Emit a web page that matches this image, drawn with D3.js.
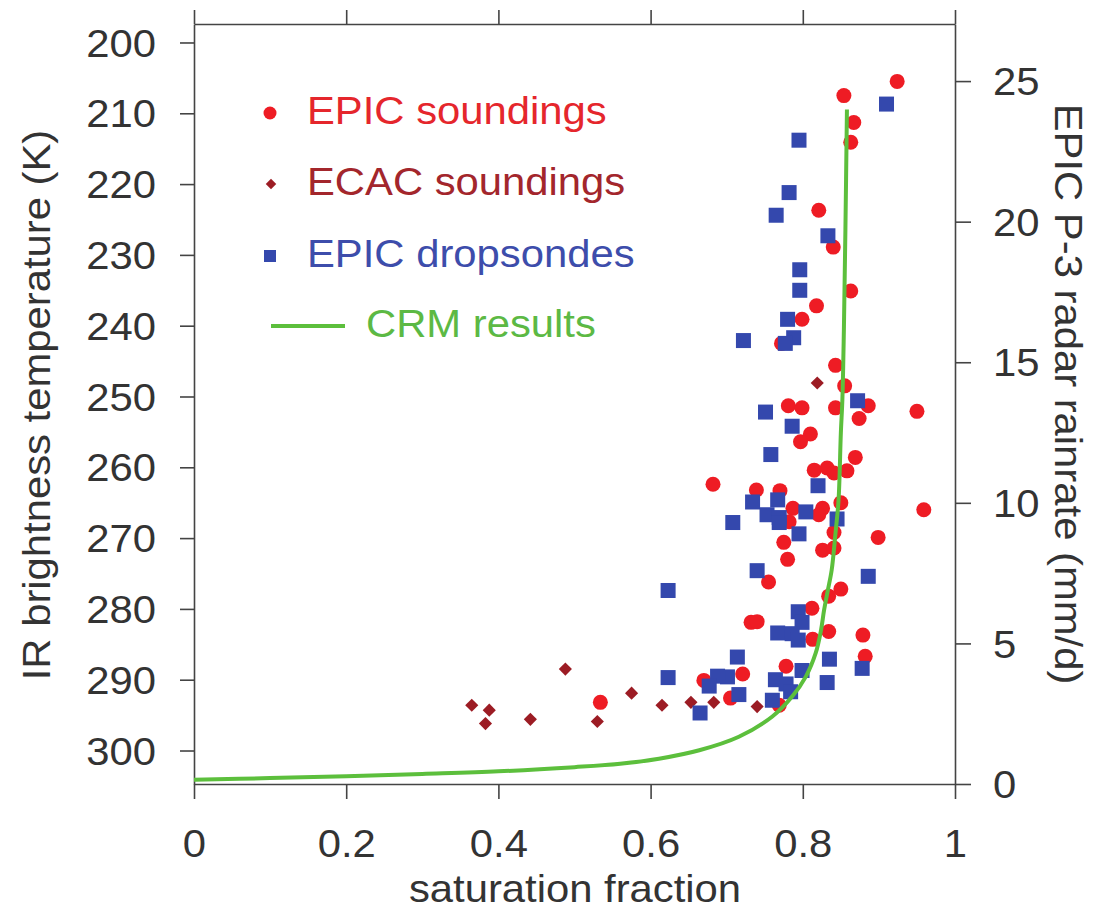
<!DOCTYPE html>
<html>
<head>
<meta charset="utf-8">
<script src="https://cdn.jsdelivr.net/npm/d3@7"></script>
<style>
  html, body { margin: 0; padding: 0; background: #fff; }
  svg { display: block; }
  text { font-family: "Liberation Sans", Arial, Helvetica, sans-serif; }
</style>
</head>
<body>
<svg id="chart" width="1098" height="913"></svg>
<script>
// ---------------- data ----------------
const xTicks = [0, 0.2, 0.4, 0.6, 0.8, 1];
const xTickLabels = ["0", "0.2", "0.4", "0.6", "0.8", "1"];
const leftTicks = [200, 210, 220, 230, 240, 250, 260, 270, 280, 290, 300];
const rightTicks = [0, 5, 10, 15, 20, 25];

const seriesNames = ["EPIC soundings", "ECAC soundings", "EPIC dropsondes", "CRM results"];

// [saturation fraction, IR brightness temperature (K)]
const epicSoundings = [
  [0.854,207.5],[0.924,205.5],[0.867,211.3],[0.863,214.1],[0.821,223.7],
  [0.840,228.9],[0.863,235.1],[0.818,237.2],[0.799,239.1],[0.772,242.5],
  [0.843,245.6],[0.855,248.5],[0.886,251.3],[0.950,252.1],[0.781,251.3],
  [0.799,251.6],[0.843,251.6],[0.874,253.1],[0.810,255.3],[0.797,256.4],
  [0.869,258.6],[0.815,260.4],[0.832,260.1],[0.841,260.8],[0.858,260.5],
  [0.682,262.4],[0.739,263.2],[0.770,263.3],[0.850,265.0],[0.787,265.8],
  [0.826,265.8],[0.959,266.0],[0.821,266.7],[0.782,267.7],[0.841,269.2],
  [0.899,269.9],[0.775,270.6],[0.826,271.7],[0.841,271.4],[0.780,273.0],
  [0.755,276.2],[0.850,277.2],[0.834,278.2],[0.812,279.9],[0.732,281.9],
  [0.740,281.8],[0.834,283.2],[0.813,284.3],[0.879,283.7],[0.882,286.7],
  [0.778,288.1],[0.721,289.2],[0.670,290.1],[0.705,292.6],[0.769,293.6],
  [0.534,293.2]
];

const ecacSoundings = [
  [0.365,293.6],[0.388,294.3],[0.383,296.2],[0.442,295.6],[0.488,288.5],
  [0.530,295.9],[0.575,291.9],[0.615,293.6],[0.653,293.2],[0.683,293.2],
  [0.740,293.8],[0.819,248.1]
];

const epicDropsondes = [
  [0.910,208.7],[0.795,213.8],[0.782,221.2],[0.765,224.4],[0.833,227.3],
  [0.796,232.1],[0.796,235.0],[0.780,239.1],[0.722,242.1],[0.788,241.7],
  [0.777,242.5],[0.872,250.6],[0.751,252.2],[0.786,254.2],[0.758,258.2],
  [0.820,262.6],[0.734,264.9],[0.767,264.6],[0.804,266.3],[0.753,266.7],
  [0.769,267.1],[0.845,267.3],[0.708,267.8],[0.769,267.8],[0.795,269.4],
  [0.740,274.6],[0.886,275.4],[0.623,277.4],[0.794,280.4],[0.799,281.9],
  [0.767,283.4],[0.786,283.5],[0.794,284.4],[0.835,287.1],[0.714,286.8],
  [0.878,288.4],[0.799,288.7],[0.701,289.6],[0.688,289.5],[0.623,289.7],
  [0.764,290.0],[0.832,290.4],[0.677,290.9],[0.778,290.6],[0.784,291.7],
  [0.716,292.1],[0.760,292.9],[0.665,294.7]
];

// [saturation fraction, EPIC P-3 radar rainrate (mm/d)]
const crmCurve = [
  [0.000,0.15],[0.100,0.21],[0.200,0.28],[0.300,0.36],[0.400,0.45],
  [0.500,0.60],[0.560,0.72],[0.611,0.90],[0.664,1.20],[0.716,1.68],
  [0.760,2.40],[0.786,3.11],[0.804,3.82],[0.817,4.66],[0.824,5.48],
  [0.828,6.19],[0.833,6.90],[0.838,7.62],[0.843,8.93],[0.847,10.11],
  [0.850,12.49],[0.852,13.67],[0.854,16.16],[0.856,19.72],[0.858,23.99]
];

// ---------------- styles ----------------
const colRed = "#ee1c24", colEcac = "#9c1c24", colBlue = "#3448ad", colGreen = "#5cbf3c";
const axisCol = "#444", textCol = "#333";
const FS = 38, SX = 1.1;

// ---------------- layout ----------------
const svg = d3.select("#chart");
const L = 194, R = 955, T = 24, B = 784;

const x = d3.scaleLinear().domain([0, 1]).range([L, R]);
const yL = d3.scaleLinear().domain([197.39, 304.73]).range([T, B]);
const yR = d3.scaleLinear().domain([0, 27.03]).range([B, T]);

function styleAxis(g) {
  g.selectAll("path, line").attr("stroke", axisCol).attr("stroke-width", 1.6);
  g.selectAll("text").attr("fill", textCol).attr("font-size", FS)
    .attr("font-family", "Liberation Sans, Arial, sans-serif");
}

// bottom
const gB = svg.append("g").attr("transform", `translate(0,${B})`)
  .call(d3.axisBottom(x).tickValues(xTicks).tickFormat((d, i) => xTickLabels[i]).tickSize(15).tickSizeOuter(0));
styleAxis(gB);
gB.selectAll(".tick text").attr("y", 0).attr("dy", null)
  .attr("transform", `translate(0,73) scale(${SX},1)`);

// top
const gT = svg.append("g").attr("transform", `translate(0,${T})`)
  .call(d3.axisTop(x).tickValues(xTicks).tickFormat("").tickSize(14).tickSizeOuter(0));
styleAxis(gT);

// left
const gL = svg.append("g").attr("transform", `translate(${L},0)`)
  .call(d3.axisLeft(yL).tickValues(leftTicks).tickFormat(d3.format("d")).tickSize(14).tickSizeOuter(0));
styleAxis(gL);
gL.selectAll(".tick text").attr("x", 0).attr("dy", "0.36em")
  .attr("transform", `translate(-38,0) scale(${SX},1)`);

// right
const gR = svg.append("g").attr("transform", `translate(${R},0)`)
  .call(d3.axisRight(yR).tickValues(rightTicks).tickFormat(d3.format("d")).tickSize(16).tickSizeOuter(0));
styleAxis(gR);
gR.selectAll(".tick text").attr("x", 0).attr("dy", "0.36em")
  .attr("transform", `translate(38,0) scale(${SX},1)`);

// axis titles
function label(txt, tx, ty, rot, anchor, fill) {
  svg.append("text")
    .attr("transform", `translate(${tx},${ty}) rotate(${rot}) scale(${SX},1)`)
    .attr("text-anchor", anchor).attr("font-size", FS).attr("fill", fill || textCol)
    .text(txt);
}
label("saturation fraction", 575, 902, 0, "middle");
label("IR brightness temperature (K)", 50, 405, -90, "middle");
label("EPIC P-3 radar rainrate (mm/d)", 1055, 394, 90, "middle");

// ---------------- marks ----------------
const plot = svg.append("g");

plot.selectAll("circle.epic").data(epicSoundings).join("circle")
  .attr("class", "epic")
  .attr("cx", d => x(d[0])).attr("cy", d => yL(d[1])).attr("r", 7.5)
  .attr("fill", colRed);

const diamond = d3.symbol().type(d3.symbolDiamond2).size(110);
plot.selectAll("path.ecac").data(ecacSoundings).join("path")
  .attr("class", "ecac")
  .attr("transform", d => `translate(${x(d[0])},${yL(d[1])})`)
  .attr("d", diamond).attr("fill", colEcac);

const sq = 15;
plot.selectAll("rect.drop").data(epicDropsondes).join("rect")
  .attr("class", "drop")
  .attr("x", d => x(d[0]) - sq / 2).attr("y", d => yL(d[1]) - sq / 2)
  .attr("width", sq).attr("height", sq).attr("fill", colBlue);

const line = d3.line().x(d => x(d[0])).y(d => yR(d[1])).curve(d3.curveCatmullRom.alpha(0.5));
plot.append("path").datum(crmCurve)
  .attr("d", line).attr("fill", "none").attr("stroke", colGreen).attr("stroke-width", 4)
  .attr("stroke-linecap", "butt");

// ---------------- legend ----------------
const leg = svg.append("g");
const legRows = [
  { name: seriesNames[0], y: 113, col: colRed, txt: "#e5262c", type: "circle" },
  { name: seriesNames[1], y: 184, col: colEcac, txt: "#a3262c", type: "diamond" },
  { name: seriesNames[2], y: 256, col: colBlue, txt: "#3d4dab", type: "square" },
  { name: seriesNames[3], y: 326, col: colGreen, txt: "#5cb944", type: "line" }
];
legRows.forEach(r => {
  if (r.type === "circle") {
    leg.append("circle").attr("cx", 270).attr("cy", r.y).attr("r", 6.5).attr("fill", r.col);
  } else if (r.type === "diamond") {
    leg.append("path").attr("transform", `translate(271,${r.y})`)
      .attr("d", d3.symbol().type(d3.symbolDiamond2).size(70)).attr("fill", r.col);
  } else if (r.type === "square") {
    leg.append("rect").attr("x", 264).attr("y", r.y - 6).attr("width", 12).attr("height", 12).attr("fill", r.col);
  } else {
    leg.append("line").attr("x1", 271).attr("x2", 345).attr("y1", r.y).attr("y2", r.y)
      .attr("stroke", r.col).attr("stroke-width", 4);
  }
  const tx = r.type === "line" ? 366 : 307;
  leg.append("text")
    .attr("transform", `translate(${tx},${r.y + 11}) scale(${SX},1)`)
    .attr("font-size", FS).attr("fill", r.txt).text(r.name);
});
</script>
</body>
</html>
